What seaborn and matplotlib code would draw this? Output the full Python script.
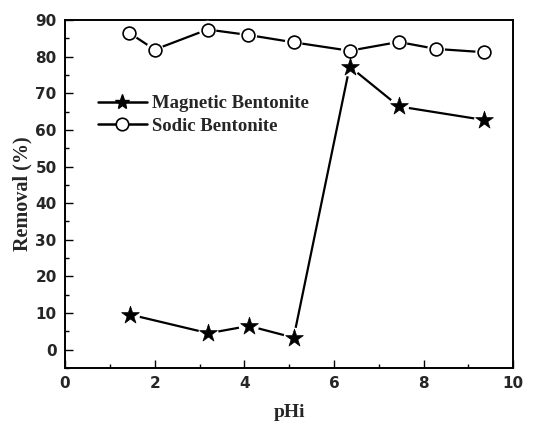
import matplotlib
matplotlib.use("Agg")
import matplotlib.pyplot as plt
from matplotlib.ticker import MultipleLocator
from matplotlib.lines import Line2D
from matplotlib.font_manager import FontProperties
import seaborn as sns
import pandas as pd

# Initial pH and removal efficiency for the two adsorbents
ph_magnetic = [1.45, 3.2, 4.1, 5.1, 6.35, 7.45, 9.35]
removal_magnetic = [9.6, 4.5, 6.5, 3.3, 77.3, 66.4, 62.7]

ph_sodic = [1.43, 2.0, 3.18, 4.09, 5.1, 6.35, 7.44, 8.28, 9.35]
removal_sodic = [86.5, 81.9, 87.4, 85.9, 83.9, 81.6, 84.0, 82.1, 81.2]

series_names = ["Magnetic Bentonite", "Sodic Bentonite"]

df_mag = pd.DataFrame({"pHi": ph_magnetic, "Removal": removal_magnetic})
df_sod = pd.DataFrame({"pHi": ph_sodic, "Removal": removal_sodic})

sns.set_theme(style="ticks")
plt.rcParams["font.family"] = ["DejaVu Sans"]
plt.rcParams["font.weight"] = "bold"

SERIF = ["Liberation Serif", "DejaVu Serif"]
tick_font = FontProperties(family=["DejaVu Sans"], weight="bold", size=11)

fig = plt.figure(figsize=(5.42, 4.25), dpi=100)
ax = fig.add_axes([0.120, 0.134, 0.827, 0.819])

# connecting lines
sns.lineplot(data=df_mag, x="pHi", y="Removal", ax=ax, color="black",
             linewidth=1.6, zorder=2, legend=False)
sns.lineplot(data=df_sod, x="pHi", y="Removal", ax=ax, color="black",
             linewidth=1.6, zorder=2, legend=False)

# white halos leave a small gap between line and symbol
sns.scatterplot(data=df_mag, x="pHi", y="Removal", ax=ax, marker="o", s=210,
                color="white", edgecolor="none", zorder=3, legend=False)
sns.scatterplot(data=df_sod, x="pHi", y="Removal", ax=ax, marker="o", s=160,
                color="white", edgecolor="none", zorder=3, legend=False)

# symbols
sns.scatterplot(data=df_mag, x="pHi", y="Removal", ax=ax, marker="*", s=180,
                color="black", edgecolor="black", linewidth=0.5, zorder=4, legend=False)
sns.scatterplot(data=df_sod, x="pHi", y="Removal", ax=ax, marker="o", s=85,
                color="white", edgecolor="black", linewidth=1.2, zorder=4, legend=False)

ax.set_xlim(0, 10)
ax.set_ylim(-5, 90)
xticks = [0, 2, 4, 6, 8, 10]
yticks = [0, 10, 20, 30, 40, 50, 60, 70, 80, 90]
ax.set_xticks(xticks)
ax.set_xticklabels([str(t) for t in xticks], fontproperties=tick_font)
ax.set_yticks(yticks)
ax.set_yticklabels([str(t) for t in yticks], fontproperties=tick_font)
ax.xaxis.set_minor_locator(MultipleLocator(1))
ax.yaxis.set_minor_locator(MultipleLocator(5))

ax.tick_params(which="both", direction="in", top=False, right=False,
               color="black", width=1.0)
ax.tick_params(which="major", length=6, pad=6)
ax.tick_params(which="minor", length=3)

for sp in ax.spines.values():
    sp.set_linewidth(1.4)
    sp.set_color("black")

ax.set_xlabel("pHi", fontsize=14, fontweight="bold", family=SERIF, labelpad=9)
ax.set_ylabel("Removal (%)", fontsize=14.5, fontweight="bold", family=SERIF, labelpad=2)

handles = [
    Line2D([0], [0], color="black", linewidth=1.8, marker="*", markersize=11,
           markerfacecolor="black", markeredgecolor="black"),
    Line2D([0], [0], color="black", linewidth=1.8, marker="o", markersize=9,
           markerfacecolor="white", markeredgecolor="black", markeredgewidth=1.2),
]
ax.legend(handles, series_names, loc="upper left", bbox_to_anchor=(0.044, 0.822),
          frameon=False, handlelength=2.6, handletextpad=0.27, labelspacing=0.3,
          borderpad=0.2, prop={"family": SERIF, "weight": "bold", "size": 13.5})

fig.savefig("out.png", dpi=100)
